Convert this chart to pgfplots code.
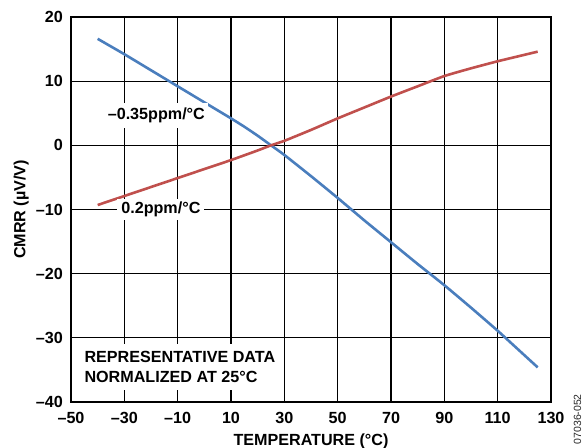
\documentclass[border=0pt]{standalone}
\usepackage{fontspec}
\setmainfont{Liberation Sans}
\usepackage{pgfplots}
\pgfplotsset{compat=1.18}
\definecolor{cblue}{RGB}{74,126,189}
\definecolor{cred}{RGB}{192,80,77}
\newcommand{\lbl}{\bfseries\fontsize{16.2}{19.4}\selectfont}
\begin{document}
\begin{tikzpicture}
\begin{axis}[
  scale only axis,
  width=480bp, height=385bp,
  xmin=-50, xmax=130, ymin=-40, ymax=20,
  xtick={-50,-30,...,130},
  ytick={-40,-30,...,20},
  xticklabels={\textendash50,\textendash30,\textendash10,10,30,50,70,90,110,130},
  yticklabels={\textendash40,\textendash30,\textendash20,\textendash10,0,10,20},
  major tick length=0pt,
  grid=major,
  major grid style={line width=1.1bp, black},
  axis line style={line width=2bp, black},
  tick label style={font=\lbl, inner sep=0pt},
  every x tick label/.append style={anchor=base, yshift=-21.5bp},
  every y tick label/.append style={anchor=east, xshift=-8bp},
  xlabel={TEMPERATURE (°C)},
  ylabel={CMRR (µV/V)},
  every axis x label/.style={at={(axis description cs:0.5,-0.1143)}, anchor=base, font=\lbl},
  every axis y label/.style={at={(axis description cs:-0.0948,0.5)}, rotate=90, anchor=base, font=\lbl},
]
\addplot[cblue, line width=2.6bp, smooth, tension=0.3] coordinates {
(-40,16.6) (-30,14.2) (-20,11.7) (-10,9.2) (0,6.7) (10,4.2) (15,2.9) (20,1.5) (25,0) (30,-1.5) (40,-4.8) (50,-8.2) (60,-11.7) (70,-15.1) (80,-18.5) (90,-21.8) (100,-25.3) (110,-28.9) (120,-32.7) (125,-34.6)
};
\addplot[cred, line width=2.6bp, smooth, tension=0.3] coordinates {
(-40,-9.3) (-30,-7.9) (-20,-6.5) (-10,-5.1) (0,-3.7) (10,-2.3) (20,-0.8) (25,0) (30,0.7) (40,2.4) (50,4.2) (60,5.9) (70,7.6) (80,9.2) (90,10.8) (100,12.0) (110,13.1) (120,14.1) (125,14.6)
};
\node[fill=white, inner xsep=3bp, inner ysep=5bp, font=\lbl] at (axis cs:-18,4.7) {\textendash0.35ppm/°C};
\node[fill=white, inner xsep=4bp, inner ysep=3bp, font=\lbl] at (axis cs:-16.3,-10) {0.2ppm/°C};
\node[fill=white, inner xsep=2bp, inner ysep=8bp, font=\lbl, align=left, anchor=west] at (axis cs:-45.75,-34.55) {REPRESENTATIVE DATA\\NORMALIZED AT 25°C};
\end{axis}
\node[rotate=90, anchor=base east, inner sep=0pt, font=\fontsize{10.5}{12}\selectfont, text=black!85] at ([shift={(30bp,8bp)}]current axis.south east) {07036-052};
\pgfresetboundingbox
\path[use as bounding box] ([shift={(-71bp,-46bp)}]current axis.south west) rectangle ([shift={(31bp,17bp)}]current axis.north east);
\end{tikzpicture}
\end{document}
